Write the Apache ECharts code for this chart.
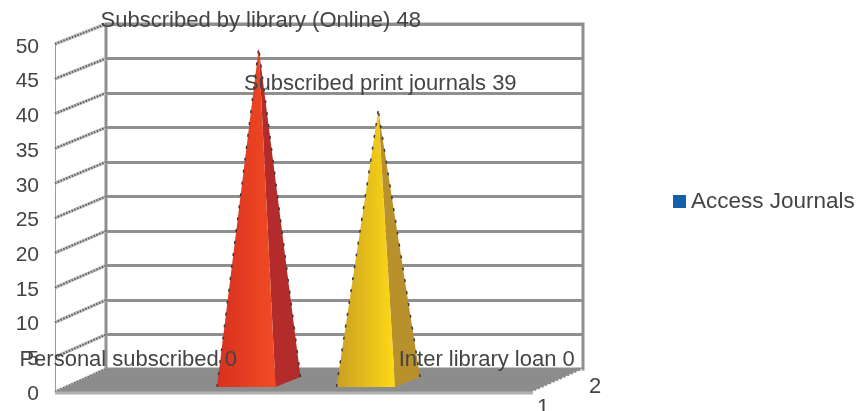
<!DOCTYPE html>
<html>
<head>
<meta charset="utf-8">
<style>html,body{margin:0;padding:0;background:#fff}#chart{width:860px;height:411px}</style>
<script src="https://cdn.jsdelivr.net/npm/echarts@6/dist/echarts.min.js"></script>
</head>
<body>
<div id="chart"></div>
<script>
// Access routes to journals, one pyramid per route
const categories = ['Personal subscribed', 'Subscribed by library (Online)', 'Subscribed print journals', 'Inter library loan'];
const values = [0, 48, 39, 0];
const seriesName = 'Access Journals';
const axisTicks = [0, 5, 10, 15, 20, 25, 30, 35, 40, 45, 50];
const depthLabels = ['1', '2'];
const faceColors = [null, ['#d8301f', '#f14c24', '#b32b2a'], ['#c99f22', '#ffd916', '#b8912c'], null];

const FONT = '"Liberation Sans", Arial, sans-serif';
const TEXT = '#444444';
const WALL = '#8f8f8f';
const DEPTH_X = 51, DEPTH_Y = -23;

const chart = echarts.init(document.getElementById('chart'), null, { renderer: 'canvas' });

function renderFloor(params, api) {
  const r = params.coordSys;
  const b = r.y + r.height;
  return {
    type: 'group',
    children: [
      { type: 'polygon', shape: { points: [[r.x, b], [r.x + r.width, b], [r.x + r.width + DEPTH_X, b + DEPTH_Y], [r.x + DEPTH_X, b + DEPTH_Y]] },
        style: { fill: '#8c8c8c' } },
      { type: 'line', shape: { x1: r.x + r.width, y1: b, x2: r.x + r.width + DEPTH_X, y2: b + DEPTH_Y },
        style: { stroke: '#ffffff', lineWidth: 2, lineDash: [2, 2] } },
      { type: 'line', shape: { x1: r.x, y1: b + 1, x2: r.x + r.width, y2: b + 1 },
        style: { stroke: '#b0b0b0', lineWidth: 3 } },
      { type: 'text', x: r.x + r.width + 10, y: b + 16, style: { text: depthLabels[0], font: '22px ' + FONT, fill: TEXT, align: 'center', verticalAlign: 'middle' } },
      { type: 'text', x: r.x + r.width + DEPTH_X + 11, y: b + DEPTH_Y + 18, style: { text: depthLabels[1], font: '22px ' + FONT, fill: TEXT, align: 'center', verticalAlign: 'middle' } }
    ]
  };
}

function renderDepthLine(params, api) {
  const tick = api.value(0);
  const p = api.coord([0, tick]);
  const x = params.coordSys.x;
  const rise = DEPTH_Y + 3 * tick / 50;
  return {
    type: 'group',
    children: [
      { type: 'line', shape: { x1: x, y1: p[1], x2: x + DEPTH_X, y2: p[1] + rise },
        style: { stroke: '#c4c4c4', lineWidth: 3.5 } },
      { type: 'line', shape: { x1: x, y1: p[1], x2: x + DEPTH_X, y2: p[1] + rise },
        style: { stroke: '#5c5c5c', lineWidth: 2, lineDash: [1.5, 1.5] } }
    ]
  };
}

function renderPyramid(params, api) {
  const idx = params.dataIndex;
  const value = api.value(1);
  const base = api.coord([idx, 0]);
  const top = api.coord([idx, value]);
  const half = api.size([1, 0])[0] * 0.245;
  const cx = base[0] + 12, fy = base[1] - 5;
  const apex = [top[0] + 24.5, top[1] - 10];
  const children = [];
  const colors = faceColors[idx];
  if (value > 0 && colors) {
    const l = [cx - half, fy], m = [cx + half, fy], s = [cx + half + 25, fy - 10];
    children.push(
      { type: 'polygon', shape: { points: [m, s, apex] }, style: { fill: colors[2] } },
      { type: 'polygon', shape: { points: [l, m, apex] }, style: {
        fill: new echarts.graphic.LinearGradient(0, 0, 1, 0, [
          { offset: 0, color: colors[0] }, { offset: 1, color: colors[1] }
        ])
      } },
      { type: 'line', shape: { x1: l[0], y1: l[1], x2: apex[0], y2: apex[1] },
        style: { stroke: '#3a3a3a', lineWidth: 1.5, lineDash: [3, 9] } },
      { type: 'line', shape: { x1: s[0], y1: s[1], x2: apex[0], y2: apex[1] },
        style: { stroke: '#3a3a3a', lineWidth: 1.5, lineDash: [3, 9] } }
    );
  }
  children.push({
    type: 'text',
    x: apex[0] + (value > 0 ? 2 : -11),
    y: apex[1] - (value > 0 ? 27 : 22),
    z2: 50,
    style: { text: categories[idx] + ' ' + value, font: '22px ' + FONT, fill: TEXT, align: 'center', verticalAlign: 'middle' }
  });
  return { type: 'group', children };
}

chart.setOption({
  animation: false,
  backgroundColor: '#ffffff',
  legend: {
    data: [seriesName],
    left: 668, top: 185,
    icon: 'rect', itemWidth: 13, itemHeight: 13, itemGap: 6,
    textStyle: { fontFamily: FONT, fontSize: 22.5, color: TEXT }
  },
  grid: [
    { left: 55, right: 327, top: 44, bottom: 19, show: false },
    { left: 106, right: 277, top: 24, bottom: 42, show: true, borderColor: WALL, borderWidth: 3, backgroundColor: '#ffffff' },
    { left: 55, right: 327, top: 47, bottom: 17, show: false }
  ],
  xAxis: [
    { type: 'category', gridIndex: 0, data: categories, axisLine: { show: false }, axisTick: { show: false }, axisLabel: { show: false } },
    { type: 'category', gridIndex: 1, data: categories, axisLine: { show: false }, axisTick: { show: false }, axisLabel: { show: false } },
    { type: 'category', gridIndex: 2, data: categories, axisLine: { show: false }, axisTick: { show: false }, axisLabel: { show: false } }
  ],
  yAxis: [
    { type: 'value', gridIndex: 0, min: 0, max: 50, interval: 5,
      axisLine: { show: true, lineStyle: { color: '#9a9a9a', width: 1 } },
      axisTick: { show: false }, splitLine: { show: false }, axisLabel: { show: false } },
    { type: 'value', gridIndex: 1, min: 0, max: 50, interval: 5,
      axisLine: { show: false }, axisTick: { show: false }, axisLabel: { show: false },
      splitLine: { show: true, lineStyle: { color: WALL, width: 3 } } },
    // Tick labels sit slightly below the front-plane tick positions
    { type: 'value', gridIndex: 2, min: 0, max: 50, interval: 5,
      axisLine: { show: false }, axisTick: { show: false }, splitLine: { show: false },
      axisLabel: { margin: 16, fontFamily: FONT, fontSize: 21, color: TEXT } }
  ],
  series: [
    { type: 'custom', name: 'floor', xAxisIndex: 0, yAxisIndex: 0, silent: true, z: 3, data: [0], renderItem: renderFloor },
    { type: 'custom', name: 'depth', xAxisIndex: 0, yAxisIndex: 0, silent: true, z: 2, data: axisTicks.map(t => [t]), renderItem: renderDepthLine },
    { type: 'custom', name: seriesName, xAxisIndex: 0, yAxisIndex: 0, z: 5,
      itemStyle: { color: '#1560a8' },
      encode: { x: 0, y: 1 },
      data: values.map((v, i) => [i, v]), renderItem: renderPyramid }
  ]
});
</script>
</body>
</html>
